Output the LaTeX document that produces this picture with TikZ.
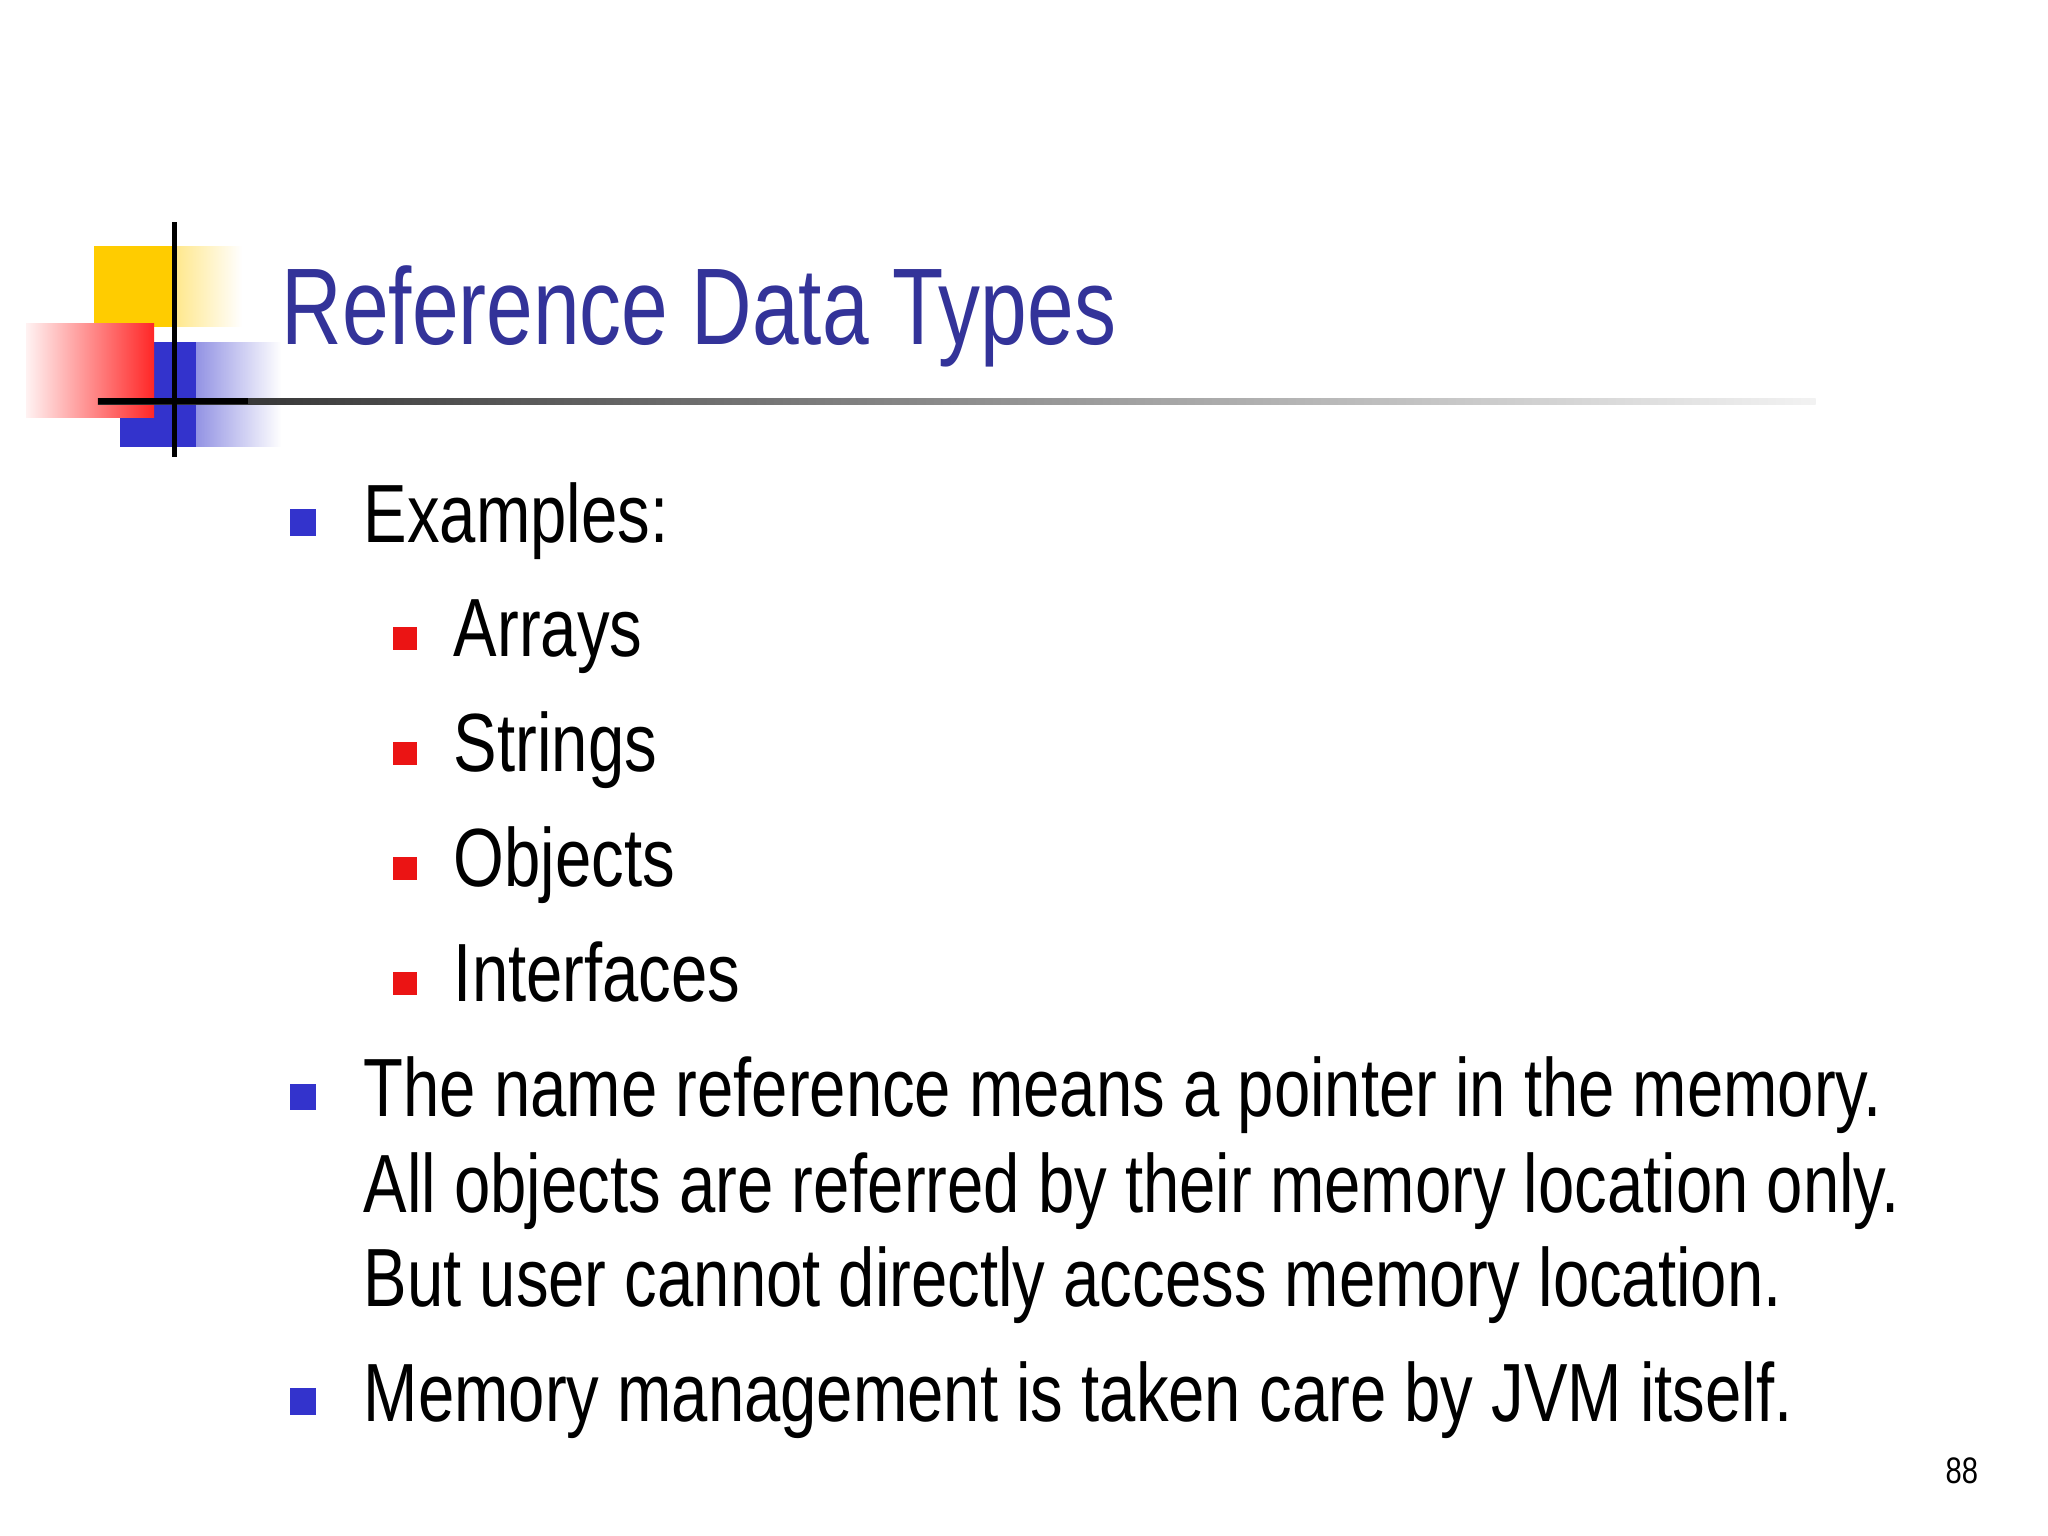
\documentclass[tikz,border=0pt]{standalone}
\usepackage{fontspec}
\setmainfont[FakeStretch=0.79]{Liberation Sans}
\newfontfamily\titlefont[FakeStretch=0.77]{Liberation Sans}
\usetikzlibrary{fadings}
\definecolor{titleblue}{RGB}{51,51,153}
\definecolor{bblue}{RGB}{51,51,204}
\definecolor{bred}{RGB}{235,20,20}
\definecolor{dyellow}{RGB}{255,204,0}
\tikzset{
  t1/.style={anchor=base west,inner sep=0pt,font=\fontsize{23.5}{28}\selectfont},
  tt/.style={anchor=base west,inner sep=0pt,font=\titlefont\fontsize{31}{36}\selectfont,text=titleblue}
}
\begin{document}
\begin{tikzpicture}[x=0.013061cm,y=-0.013061cm]
\useasboundingbox (0,0) rectangle (1568,1176);
\fill[white] (0,0) rectangle (1568,1176);
% decoration
\fill[dyellow,path fading=east] (72,188) rectangle (185,250);
\fill[dyellow] (72,188) rectangle (133,250);
\fill[bblue,path fading=east] (92,262) rectangle (215,342);
\fill[bblue] (92,262) rectangle (150,342);
\shade[left color=red!5,right color=red!85] (20,248) rectangle (118,320);
\shade[left color=black!85,right color=black!5] (75,305) rectangle (1390,309.5);
\fill[black] (75,305) rectangle (190,309.5);
\fill[black] (131.5,170) rectangle (135.5,350);
% title
\node[tt] (title) at (215,264) {Reference Data Types};
% bullets
\foreach \y in {400,840,1073}{\fill[bblue] (222,\y-10) rectangle (242,\y+10);}
\foreach \y in {489,577,665,753}{\fill[bred] (301,\y-9) rectangle (319,\y+9);}
\node[t1] (ex) at (278,415) {Examples:};
\node[t1] (ar) at (347,503) {Arrays};
\node[t1] (st) at (347,591) {Strings};
\node[t1] (ob) at (347,679) {Objects};
\node[t1] (in) at (347,767) {Interfaces};
\node[t1] (l1) at (278,855) {The name reference means a pointer in the memory.};
\node[t1] (l2) at (278,928) {All objects are referred by their memory location only.};
\node[t1] (l3) at (278,1000) {But user cannot directly access memory location.};
\node[t1] (l4) at (278,1088) {Memory management is taken care by JVM itself.};
\node[anchor=base,inner sep=0pt,font=\fontsize{10.5}{12}\selectfont] (pg) at (1502,1136) {88};
\end{tikzpicture}
\end{document}
